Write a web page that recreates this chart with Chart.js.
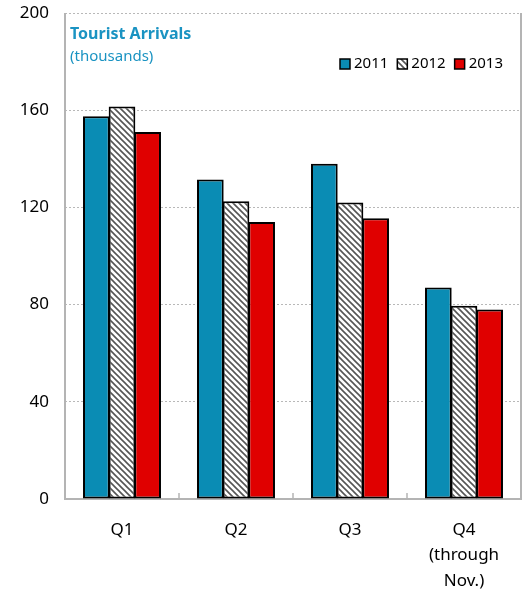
<!DOCTYPE html>
<html>
<head>
<meta charset="utf-8">
<script src="https://cdn.jsdelivr.net/npm/chart.js@4"></script>
<style>
  html, body { margin: 0; padding: 0; background: #fff; }
  #wrap { width: 523px; height: 592px; }
</style>
</head>
<body>
<div id="wrap"><canvas id="chart" width="523" height="592"></canvas></div>
<script>
const quarters = ['Q1', 'Q2', 'Q3', ['Q4', '(through', 'Nov.)']];
const years = ['2011', '2012', '2013'];
const arrivals2011 = [157.5, 131.5, 138, 87];
const arrivals2012 = [161.5, 122.5, 122, 79.5];
const arrivals2013 = [151, 114, 115.5, 78];
const yTicks = [0, 40, 80, 120, 160, 200];

const FONT = '"Noto Sans", "Open Sans", sans-serif';
const TEAL = '#0a8cb4';
const RED = '#e00000';
const AXIS = '#b4b4b4';

function hatch() {
  const c = document.createElement('canvas');
  c.width = 6; c.height = 6;
  const g = c.getContext('2d');
  g.fillStyle = '#fff';
  g.fillRect(0, 0, 6, 6);
  g.strokeStyle = '#555';
  g.lineWidth = 1.6;
  g.beginPath();
  g.moveTo(0, 0); g.lineTo(6, 6);
  g.moveTo(-3, 3); g.lineTo(3, 9);
  g.moveTo(3, -3); g.lineTo(9, 3);
  g.stroke();
  return g.createPattern(c, 'repeat');
}

const frame = {
  id: 'frame',
  beforeDatasetsDraw(chart) {
    const { ctx, chartArea: a, scales } = chart;
    ctx.save();
    ctx.strokeStyle = AXIS;
    ctx.lineWidth = 2;
    ctx.beginPath();
    ctx.moveTo(a.left, a.top); ctx.lineTo(a.left, a.bottom); ctx.lineTo(a.right, a.bottom); ctx.lineTo(a.right, a.top);
    ctx.stroke();
    ctx.lineWidth = 1.5;
    for (let i = 1; i < quarters.length; i++) {
      const x = (scales.x.getPixelForValue(i - 1) + scales.x.getPixelForValue(i)) / 2;
      ctx.beginPath();
      ctx.moveTo(x, a.bottom); ctx.lineTo(x, a.bottom - 6);
      ctx.stroke();
    }
    ctx.restore();
  },
  afterDraw(chart) {
    const { ctx, chartArea: a } = chart;
    ctx.save();
    ctx.textBaseline = 'middle';
    ctx.fillStyle = '#1a93c2';
    ctx.font = 'bold 16px ' + FONT;
    ctx.fillText('Tourist Arrivals', a.left + 5, 34);
    ctx.font = '15px ' + FONT;
    ctx.fillText('(thousands)', a.left + 5, 57);
    // legend
    ctx.font = '15px ' + FONT;
    let x = 340;
    const y = 64;
    chart.data.datasets.forEach((ds) => {
      ctx.fillStyle = ds.backgroundColor;
      ctx.fillRect(x, y - 5, 10, 10);
      ctx.strokeStyle = '#000';
      ctx.lineWidth = 1.5;
      ctx.strokeRect(x, y - 5, 10, 10);
      ctx.fillStyle = '#000';
      ctx.fillText(ds.label, x + 14, y);
      x += 14 + ctx.measureText(ds.label).width + 9;
    });
    ctx.restore();
  },
};

const barStyle = { borderColor: '#000', borderWidth: 2, borderSkipped: false, inflateAmount: 0 };

new Chart(document.getElementById('chart'), {
  type: 'bar',
  data: {
    labels: quarters,
    datasets: [
      { label: years[0], data: arrivals2011, backgroundColor: TEAL, ...barStyle },
      { label: years[1], data: arrivals2012, backgroundColor: hatch(), ...barStyle },
      { label: years[2], data: arrivals2013, backgroundColor: RED, ...barStyle },
    ],
  },
  options: {
    responsive: false,
    animation: false,
    layout: { padding: { top: 13, right: 2, left: 0, bottom: 0 } },
    plugins: { legend: { display: false }, tooltip: { enabled: false } },
    datasets: { bar: { categoryPercentage: 0.675, barPercentage: 1.04 } },
    scales: {
      x: {
        grid: { display: false },
        border: { display: false },
        ticks: { color: '#000', font: { family: FONT, size: 17, lineHeight: 1.5 }, padding: 10, maxRotation: 0 },
        afterFit(s) { s.height = 93; },
      },
      y: {
        min: 0,
        max: 200,
        afterBuildTicks(s) { s.ticks = yTicks.map((v) => ({ value: v })); },
        grid: { color: '#b8b8b8', lineWidth: 1, drawTicks: false },
        border: { display: false, dash: [2, 2] },
        ticks: { color: '#000', font: { family: FONT, size: 17 }, padding: 16 },
        afterFit(s) { s.width = 65; s.paddingTop = 0; s.paddingBottom = 0; },
      },
    },
  },
  plugins: [frame],
});
</script>
</body>
</html>
